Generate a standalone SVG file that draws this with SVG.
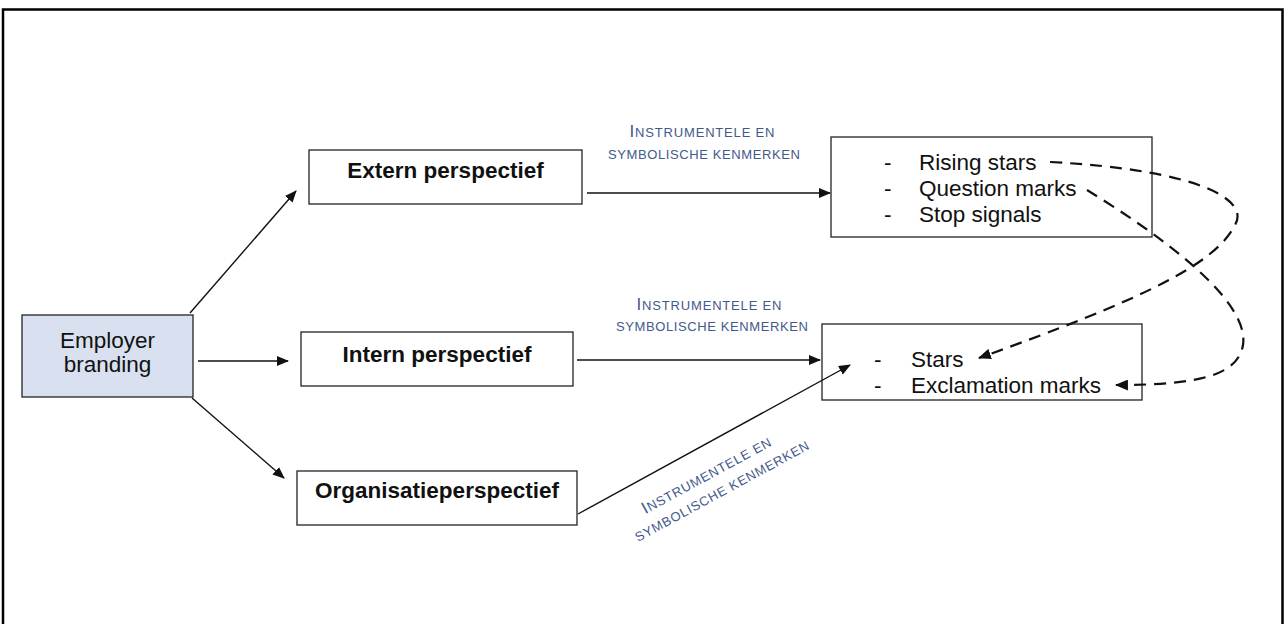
<svg xmlns="http://www.w3.org/2000/svg" width="1285" height="624" viewBox="0 0 1285 624">
<defs>
<style>
.box{fill:#fff;stroke:#222;stroke-width:1.3}
.eb{fill:#d9e1f0;stroke:#222;stroke-width:1.3}
.t{font-family:"Liberation Sans",Arial,sans-serif;font-size:22.5px;fill:#111}
.b{font-weight:bold;text-anchor:middle}
.c{stroke:#111;stroke-width:1.4;fill:none;marker-end:url(#ah)}
.d{stroke:#111;stroke-width:2.2;fill:none;stroke-dasharray:12 8;marker-end:url(#ah2)}
.lab{font-family:"Liberation Sans",Arial,sans-serif;font-size:13px;fill:#43598c;text-anchor:middle}
.big{font-size:17px}
</style>
<marker id="ah" viewBox="0 0 12 10" refX="11" refY="5" markerWidth="12" markerHeight="10" markerUnits="userSpaceOnUse" orient="auto">
<path d="M0,0 L12,5 L0,10 z" fill="#111"/>
</marker>
<marker id="ah2" viewBox="0 0 12 10" refX="11" refY="5" markerWidth="13" markerHeight="11" markerUnits="userSpaceOnUse" orient="auto">
<path d="M0,0 L12,5 L0,10 z" fill="#111"/>
</marker>
</defs>
<rect width="1285" height="624" fill="#fff"/>
<rect x="3" y="9.5" width="1279.5" height="630" fill="none" stroke="#000" stroke-width="2.5"/>

<g id="employer-branding">
<rect class="eb" x="22" y="315" width="171" height="82"/>
<text class="t" x="107.5" y="348" text-anchor="middle">Employer</text>
<text class="t" x="107.5" y="372" text-anchor="middle">branding</text>
</g>
<g id="extern">
<rect class="box" x="309" y="150" width="273" height="54"/>
<text class="t b" x="445.5" y="178">Extern perspectief</text>
</g>
<g id="intern">
<rect class="box" x="301" y="332" width="272" height="54"/>
<text class="t b" x="437" y="362">Intern perspectief</text>
</g>
<g id="organisatie">
<rect class="box" x="297" y="471" width="280" height="54"/>
<text class="t b" x="437" y="498">Organisatieperspectief</text>
</g>
<g id="extern-result">
<rect class="box" x="831" y="137" width="321" height="100"/>
<text class="t" x="884" y="170">-</text><text class="t" x="919" y="170">Rising stars</text>
<text class="t" x="884" y="196">-</text><text class="t" x="919" y="196">Question marks</text>
<text class="t" x="884" y="222">-</text><text class="t" x="919" y="222">Stop signals</text>
</g>
<g id="intern-result">
<rect class="box" x="822" y="324" width="320" height="76"/>
<text class="t" x="874" y="367">-</text><text class="t" x="911" y="367">Stars</text>
<text class="t" x="874" y="393">-</text><text class="t" x="911" y="393">Exclamation marks</text>
</g>

<g id="connectors">
<line class="c" x1="190" y1="313" x2="296" y2="191"/>
<line class="c" x1="198" y1="361" x2="288" y2="361"/>
<line class="c" x1="192" y1="398" x2="284" y2="478"/>
<line class="c" x1="587" y1="193" x2="830" y2="193"/>
<line class="c" x1="577" y1="360" x2="820" y2="360"/>
<line class="c" x1="578" y1="514" x2="850" y2="365"/>
<path class="d" d="M1050,162 C1200,170 1250,200 1235,225 C1215,265 1140,300 979,358"/>
<path class="d" d="M1087,190 C1160,235 1250,300 1243,345 C1238,375 1200,385 1116,385"/>
<g id="label1">
<text class="lab" x="702" y="137" textLength="145" lengthAdjust="spacing"><tspan class="big">I</tspan>NSTRUMENTELE EN</text>
<text class="lab" x="704" y="159" textLength="192" lengthAdjust="spacing">SYMBOLISCHE KENMERKEN</text>
</g>
<g id="label2">
<text class="lab" x="709" y="310" textLength="145" lengthAdjust="spacing"><tspan class="big">I</tspan>NSTRUMENTELE EN</text>
<text class="lab" x="712" y="331" textLength="192" lengthAdjust="spacing">SYMBOLISCHE KENMERKEN</text>
</g>
<g id="label3" transform="translate(711,483) rotate(-28.5)">
<text class="lab" x="0" y="-4" letter-spacing="0.8"><tspan class="big">I</tspan>NSTRUMENTELE  EN</text>
<text class="lab" x="6" y="17" letter-spacing="0.8">SYMBOLISCHE  KENMERKEN</text>
</g>
</g>
</svg>
